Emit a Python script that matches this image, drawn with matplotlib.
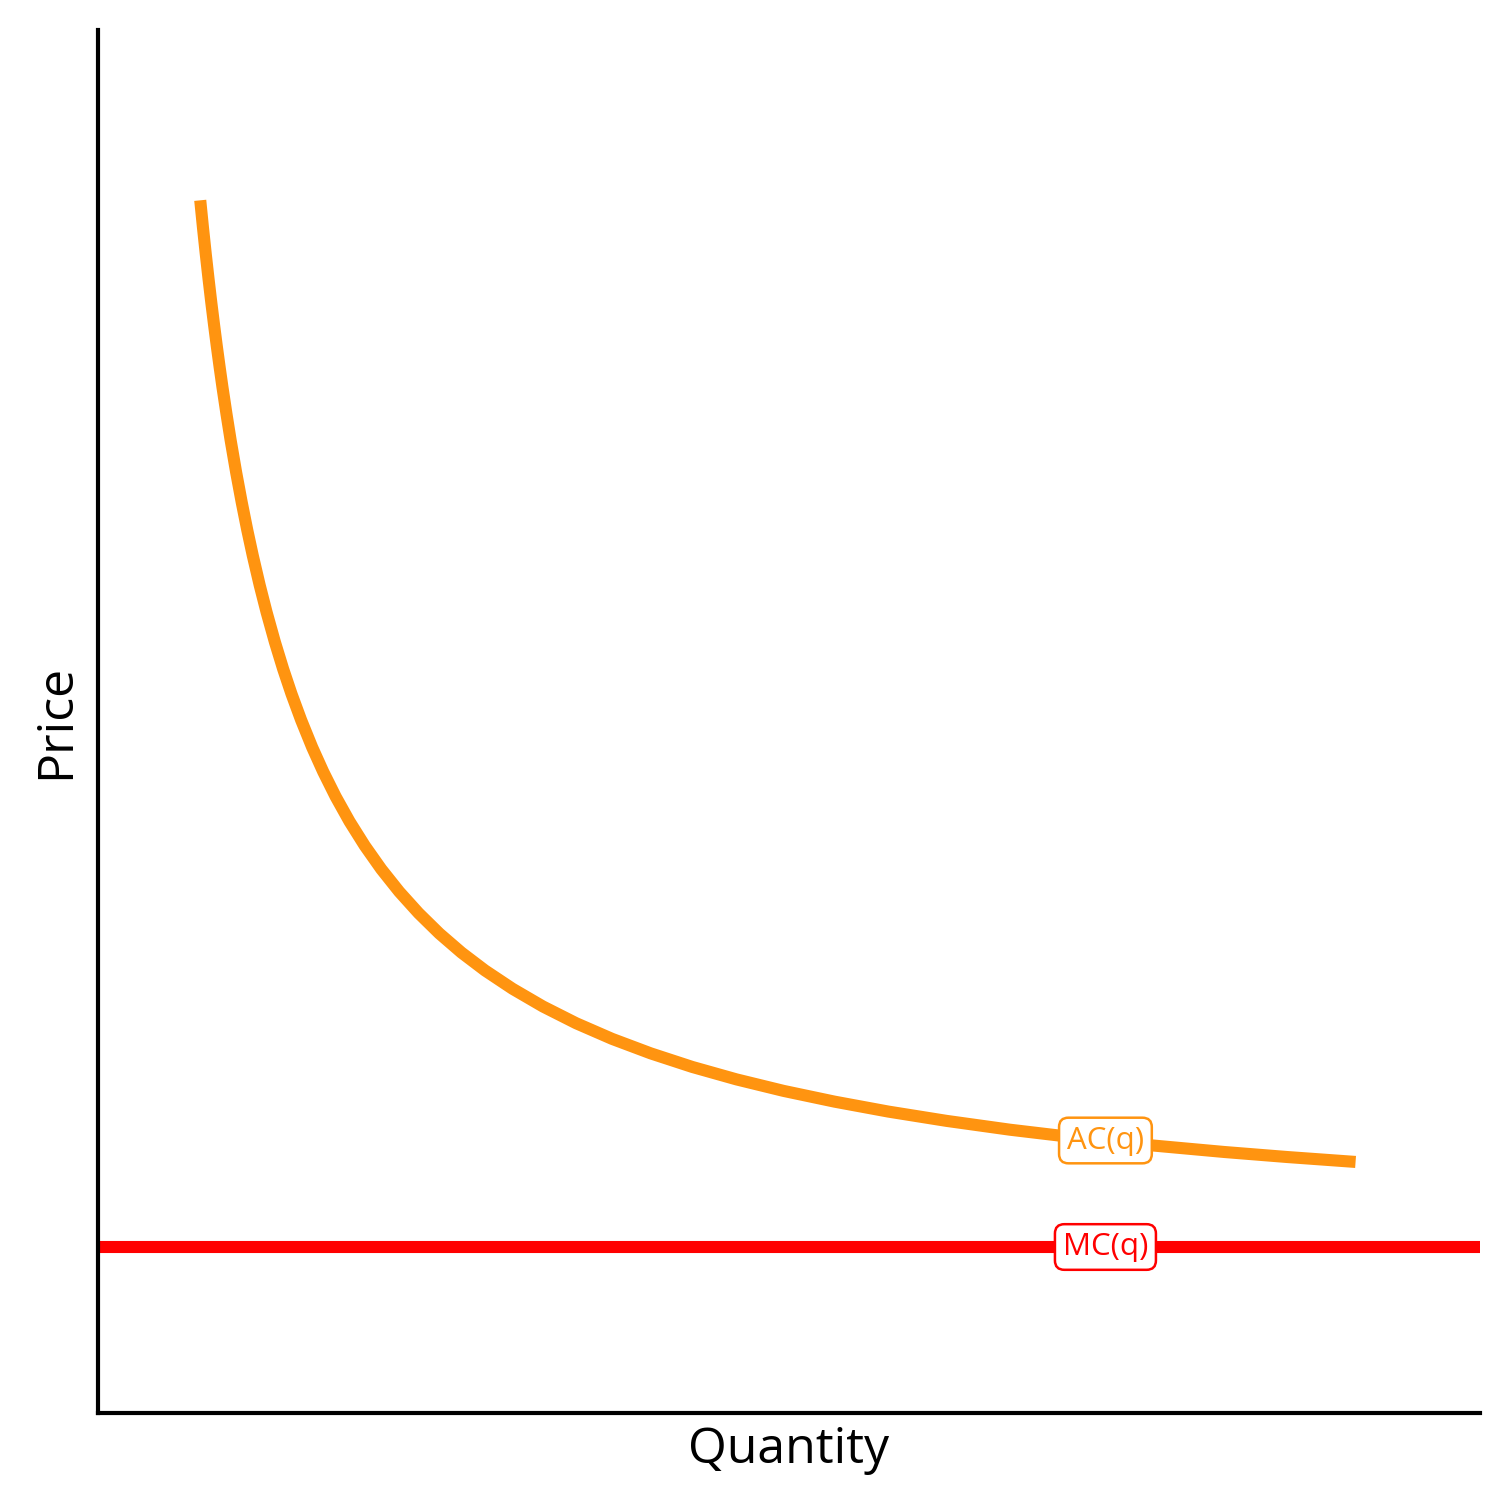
import matplotlib
matplotlib.use("Agg")
import matplotlib.pyplot as plt

plt.rcParams['font.family'] = ['Open Sans', 'DejaVu Sans']

# Average cost curve points
q_ac = [0.74, 0.76, 0.78, 0.80, 0.82, 0.84, 0.86, 0.88, 0.90, 0.93, 0.96, 1.00, 1.04,
        1.08, 1.12, 1.17, 1.22, 1.28, 1.34, 1.40, 1.47, 1.55, 1.63, 1.72, 1.82, 1.93,
        2.05, 2.18, 2.32, 2.47, 2.63, 2.80, 3.00, 3.22, 3.46, 3.72, 4.00, 4.30, 4.62,
        4.96, 5.33, 5.72, 6.14, 6.60, 7.08, 7.60, 8.15, 8.60, 9.10]
ac = [8.768, 8.568, 8.379, 8.200, 8.029, 7.867, 7.712, 7.564, 7.422, 7.222, 7.033, 6.800,
      6.585, 6.385, 6.200, 5.986, 5.790, 5.575, 5.379, 5.200, 5.010, 4.813, 4.636, 4.456,
      4.277, 4.102, 3.932, 3.769, 3.614, 3.467, 3.329, 3.200, 3.067, 2.939, 2.818, 2.705,
      2.600, 2.502, 2.412, 2.329, 2.251, 2.179, 2.112, 2.048, 1.991, 1.937, 1.887, 1.851,
      1.815]

# Marginal cost (flat)
q_mc = [0, 10]
mc = [1.2, 1.2]

labels = ["AC(q)", "MC(q)"]
label_q = [7.29, 7.29]
label_y = [1.97, 1.2]

ac_color = "#FF9410"
mc_color = "#FF0000"

fig = plt.figure(figsize=(10.08, 10.08), dpi=150)
ax = fig.add_axes([0.0648, 0.0655, 0.914, 0.9147])

ax.plot(q_ac, ac, color=ac_color, lw=5.8, solid_capstyle='butt', solid_joinstyle='round')
ax.plot(q_mc, mc, color=mc_color, lw=5.8, solid_capstyle='butt')

for lab, x, y, c in zip(labels, label_q, label_y, [ac_color, mc_color]):
    ax.text(x, y, lab, color=c, fontsize=15, ha='center', va='center',
            bbox=dict(boxstyle='round,pad=0.25,rounding_size=0.3', fc='white', ec=c, lw=1.2))

ax.set_xlim(0, 10)
ax.set_ylim(0, 10)
ax.set_xticks([])
ax.set_yticks([])
for s in ['top', 'right']:
    ax.spines[s].set_visible(False)
for s in ['left', 'bottom']:
    ax.spines[s].set_linewidth(2)
ax.set_xlabel("Quantity", fontsize=24, labelpad=6)
ax.set_ylabel("Price", fontsize=24, labelpad=8)

fig.savefig("out.png", dpi=150)
